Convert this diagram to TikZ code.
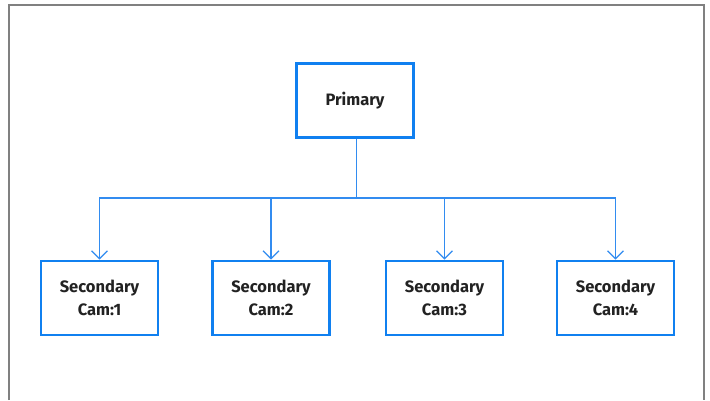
\documentclass[tikz,border=0pt]{standalone}
\usepackage{fontspec}
\setmainfont{Fira Sans}
\usetikzlibrary{arrows.meta}
\definecolor{boxblue}{RGB}{16,128,240}
\definecolor{lineblue}{RGB}{50,140,240}
\definecolor{framegray}{RGB}{128,128,128}
\definecolor{txt}{RGB}{34,34,34}
\begin{document}
\begin{tikzpicture}[x=1pt,y=-1pt,
  box/.style={draw=boxblue,line width=2.6pt,fill=white,minimum width=117pt,minimum height=74pt,inner sep=0pt,align=center,font=\bfseries\fontsize{16.5}{23}\selectfont,text=txt},
  conn/.style={draw=lineblue,line width=1.3pt},
  arr/.style={conn,-{Straight Barb[length=8pt,width=16pt,line width=1.3pt]}}]
\useasboundingbox (0,0) rectangle (710,400);
\fill[white] (0,0) rectangle (710,400);
\draw[framegray,line width=1.5pt] (9,400) -- (9,5) -- (704,5) -- (704,400);
\node[box] (p) at (355,100.5) {Primary};
\node[box] (s1) at (99.5,298) {Secondary\\Cam:1};
\node[box] (s2) at (271,298) {Secondary\\Cam:2};
\node[box] (s3) at (444.5,298) {Secondary\\Cam:3};
\node[box] (s4) at (615.5,298) {Secondary\\Cam:4};
\coordinate (j) at (356.5,198);
\draw[conn] (p.south -| j) -- (j);
\draw[arr] (j) -| (s1.north);
\draw[arr] (j) -| (s2.north);
\draw[arr] (j) -| (s3.north);
\draw[arr] (j) -| (s4.north);
\end{tikzpicture}
\end{document}
